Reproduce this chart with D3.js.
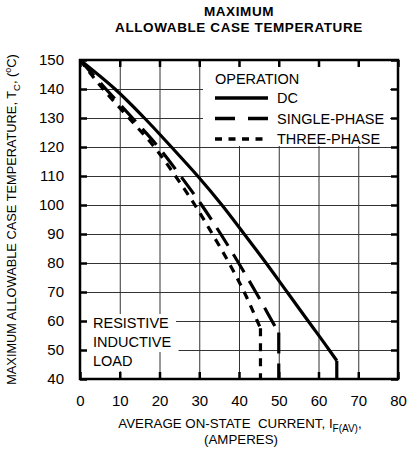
<!DOCTYPE html>
<html>
<head>
<meta charset="utf-8">
<script src="https://cdn.jsdelivr.net/npm/d3@7"></script>
<style>
    body { margin: 0; background: #fff; }
    svg { display: block; font-family: "Liberation Sans", Arial, sans-serif; }
</style>
</head>
<body>
<div id="chart"></div>
<script>
// Data (current in A, case temperature in degC)
const xTicks = [0, 10, 20, 30, 40, 50, 60, 70, 80];
const yTicks = [40, 50, 60, 70, 80, 90, 100, 110, 120, 130, 140, 150];

// curve part of each series
const dcCurrent     = [0, 8.8, 16.2, 23, 29.6, 35.7, 41.3, 46.8, 52.1, 57.4, 62.7, 64.6];
const dcTemp        = [150, 140, 130, 120, 110, 100, 90, 80, 70, 60, 50, 46.3];

const singleCurrent = [0, 6.5, 13.2, 19.7, 25.3, 30.6, 35.4, 39.9, 44.2, 48.3, 49.4];
const singleTemp    = [150, 140, 130, 120, 110, 100, 90, 80, 70, 60, 57.3];

const threeCurrent  = [0, 5.8, 12.3, 18.7, 24, 28.9, 33.3, 37.5, 41.3, 44.6, 45.4];
const threeTemp     = [150, 140, 130, 120, 110, 100, 90, 80, 70, 60, 57.5];

// vertical cut-off at the end of each series
const dcTail     = [[64.6, 46.3], [64.6, 40]];
const singleTail = [[50, 56], [50, 40]];
const threeTail  = [[45.4, 57.5], [45.4, 40]];

const seriesNames = ["DC", "SINGLE-PHASE", "THREE-PHASE"];
const loadLines = ["RESISTIVE", "INDUCTIVE", "LOAD"];
const titleLines = ["MAXIMUM", "ALLOWABLE CASE TEMPERATURE"];

const W = 410, H = 449;
const plotL = 80, plotR = 398, plotT = 60, plotB = 379;

const svg = d3.select("#chart").append("svg")
    .attr("width", W)
    .attr("height", H);

const x = d3.scaleLinear().domain([0, 80]).range([plotL, plotR]);
const y = d3.scaleLinear().domain([40, 150]).range([plotB, plotT]);

// Grid
svg.append("g")
    .attr("transform", `translate(0,${plotB})`)
    .call(d3.axisBottom(x).tickValues(xTicks).tickSize(-(plotB - plotT)).tickFormat(""))
    .call(g => g.select(".domain").remove())
    .selectAll("line").attr("stroke", "#333").attr("stroke-width", 1);

svg.append("g")
    .attr("transform", `translate(${plotL},0)`)
    .call(d3.axisLeft(y).tickValues(yTicks).tickSize(-(plotR - plotL)).tickFormat(""))
    .call(g => g.select(".domain").remove())
    .selectAll("line").attr("stroke", "#333").attr("stroke-width", 1);

// White boxes behind legend and load label
svg.append("rect")
    .attr("x", 203).attr("y", plotT).attr("width", 187).attr("height", 86)
    .attr("fill", "#fff");

const loadG = svg.append("g");
loadLines.forEach((t, i) => {
    const txt = loadG.append("text")
        .attr("x", 93)
        .attr("y", 328 + i * 19)
        .attr("font-size", 14.5)
        .text(t);
    const bb = txt.node().getBBox();
    loadG.insert("rect", "text")
        .attr("x", bb.x - 7).attr("y", 328 + i * 19 - 14)
        .attr("width", bb.width + 14).attr("height", 19)
        .attr("fill", "#fff");
});

// Curves
const curve = d3.line().x(d => x(d[0])).y(d => y(d[1])).curve(d3.curveMonotoneY);
const tail = d3.line().x(d => x(d[0])).y(d => y(d[1]));
const pairs = (cs, ts) => cs.map((c, i) => [c, ts[i]]);

const series = [
    { pts: pairs(dcCurrent, dcTemp), tail: dcTail, dash: null },
    { pts: pairs(singleCurrent, singleTemp), tail: singleTail, dash: "21,10" },
    { pts: pairs(threeCurrent, threeTemp), tail: threeTail, dash: "8,7" }
];

series.forEach(s => {
    svg.append("path")
        .datum(s.pts)
        .attr("d", curve)
        .attr("fill", "none")
        .attr("stroke", "#000")
        .attr("stroke-width", 3.2)
        .attr("stroke-dasharray", s.dash);
    svg.append("path")
        .datum(s.tail)
        .attr("d", tail)
        .attr("fill", "none")
        .attr("stroke", "#000")
        .attr("stroke-width", 3.2)
        .attr("stroke-dasharray", s.dash);
});

// Inner ticks on all four sides
const tickLen = 7;
svg.append("g").attr("transform", `translate(0,${plotB})`)
    .call(d3.axisBottom(x).tickValues(xTicks).tickSize(-tickLen).tickSizeOuter(0).tickPadding(16))
    .call(g => g.select(".domain").remove())
    .call(g => g.selectAll("line").attr("stroke-width", 2.5))
    .call(g => g.selectAll("text").attr("font-size", 15).attr("fill", "#000"))
    .attr("font-family", null);

svg.append("g").attr("transform", `translate(0,${plotT})`)
    .call(d3.axisTop(x).tickValues(xTicks).tickSize(-tickLen).tickFormat(""))
    .call(g => g.select(".domain").remove())
    .selectAll("line").attr("stroke-width", 2.5);

svg.append("g").attr("transform", `translate(${plotL},0)`)
    .call(d3.axisLeft(y).tickValues(yTicks).tickSize(-tickLen).tickSizeOuter(0).tickPadding(16))
    .call(g => g.select(".domain").remove())
    .call(g => g.selectAll("line").attr("stroke-width", 2.5))
    .call(g => g.selectAll("text").attr("font-size", 15).attr("fill", "#000"))
    .attr("font-family", null);

svg.append("g").attr("transform", `translate(${plotR},0)`)
    .call(d3.axisRight(y).tickValues(yTicks).tickSize(-tickLen).tickFormat(""))
    .call(g => g.select(".domain").remove())
    .selectAll("line").attr("stroke-width", 2.5);

// Frame
svg.append("rect")
    .attr("x", plotL).attr("y", plotT)
    .attr("width", plotR - plotL).attr("height", plotB - plotT)
    .attr("fill", "none").attr("stroke", "#000").attr("stroke-width", 2.5);

// Legend
const legend = svg.append("g");
legend.append("text").attr("x", 215).attr("y", 84).attr("font-size", 14.5).text("OPERATION");
seriesNames.forEach((name, i) => {
    const ly = 98 + i * 20.5;
    legend.append("line")
        .attr("x1", 215).attr("x2", 268)
        .attr("y1", ly).attr("y2", ly)
        .attr("stroke", "#000").attr("stroke-width", 3.5)
        .attr("stroke-dasharray", i === 1 ? "20,13" : (i === 2 ? "7,6.5" : null));
    legend.append("text")
        .attr("x", 277).attr("y", ly + 5)
        .attr("font-size", 14.5)
        .text(name);
});

// Title
titleLines.forEach((t, i) => {
    svg.append("text")
        .attr("x", 239).attr("y", 16 + i * 15.5)
        .attr("text-anchor", "middle")
        .attr("font-size", 13.5).attr("font-weight", "bold")
        .attr("letter-spacing", 0.6)
        .text(t);
});

// X axis title
const xt = svg.append("text").attr("x", 240).attr("y", 428)
    .attr("text-anchor", "middle").attr("font-size", 13.3);
xt.append("tspan").text("AVERAGE ON-STATE\u00a0\u00a0CURRENT, I");
xt.append("tspan").attr("font-size", 10).attr("dy", 4).text("F(AV)");
xt.append("tspan").attr("dy", -4).text(",");
svg.append("text").attr("x", 241).attr("y", 444)
    .attr("text-anchor", "middle").attr("font-size", 13.3)
    .text("(AMPERES)");

// Y axis title
const yt = svg.append("text")
    .attr("transform", `translate(16,${(plotT + plotB) / 2}) rotate(-90)`)
    .attr("text-anchor", "middle").attr("font-size", 12.8);
yt.append("tspan").text("MAXIMUM ALLOWABLE CASE TEMPERATURE, T");
yt.append("tspan").attr("font-size", 9.5).attr("dy", 4).text("C");
yt.append("tspan").attr("dy", -4).text(", (");
yt.append("tspan").attr("font-size", 9).attr("dy", -5).text("o");
yt.append("tspan").attr("dy", 5).text("C)");
</script>
</body>
</html>
